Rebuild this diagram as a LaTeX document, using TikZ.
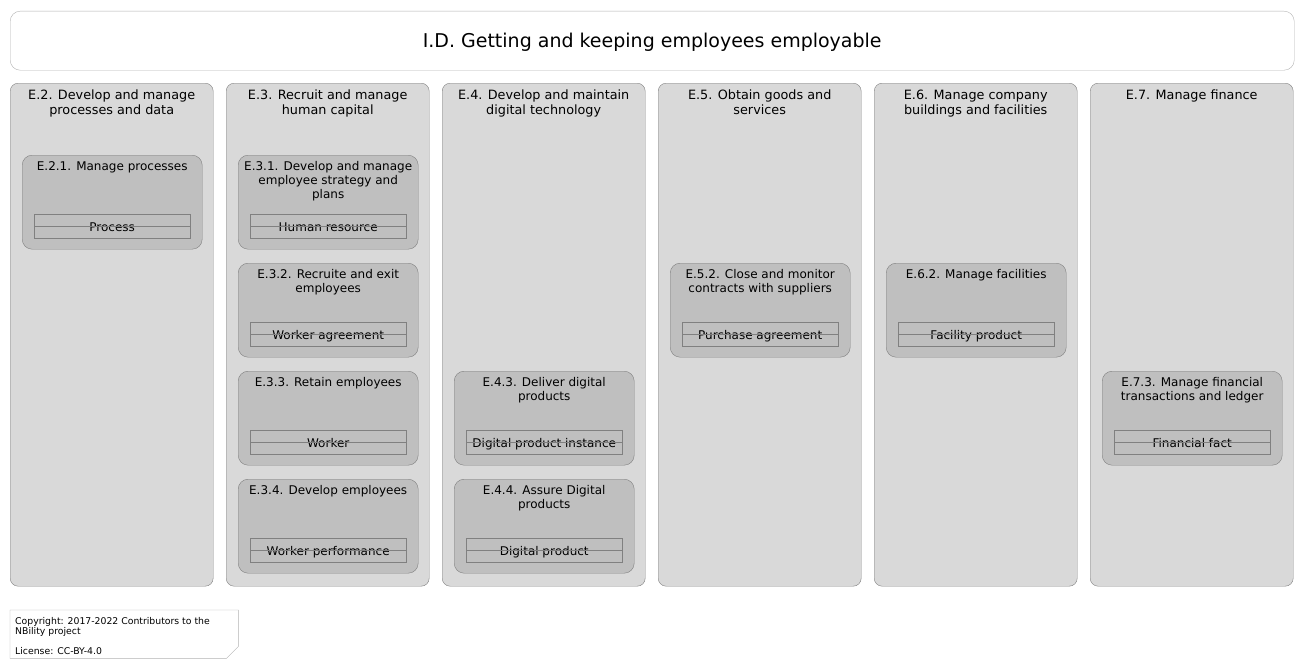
\documentclass[tikz,border=0pt]{standalone}
\usepackage{fontspec}
\setmainfont{DejaVu Sans}
\begin{document}
\begin{tikzpicture}[x=1pt,y=-1pt,
    titlebox/.style={draw=black!30, fill=white, rounded corners=10pt, minimum width=1284pt, minimum height=59pt, anchor=north west, inner sep=0pt},
    lane/.style={draw=black!50, fill=black!15, rounded corners=8pt, minimum width=203pt, minimum height=503pt, anchor=north west, inner sep=0pt},
    lanetitle/.style={anchor=north, align=center, inner sep=0pt, font=\fontsize{12.8}{14.5}\selectfont},
    capa/.style={draw=black!50, fill=black!25, rounded corners=10pt, minimum width=180pt, minimum height=94pt, anchor=north west, inner sep=0pt},
    capatitle/.style={anchor=north, align=center, inner sep=0pt, font=\fontsize{12}{14}\selectfont},
    obj/.style={draw=black!50, minimum width=156pt, minimum height=24pt, anchor=north west, inner sep=0pt, text height=10pt, text depth=0pt, font=\fontsize{12}{14}\selectfont},
    objline/.style={draw=black!50}]
  \useasboundingbox (0,0) rectangle (1305,669);

  \node[titlebox] (id) at (10,11) {};
  \node[font=\fontsize{19}{22}\selectfont] (idt) at ([yshift=-2pt]id.center) {I.D. Getting and keeping employees employable};

  % lanes
  \node[lane] (e2) at (10,83) {};
  \node[lane] (e3) at (226,83) {};
  \node[lane] (e4) at (442,83) {};
  \node[lane] (e5) at (658,83) {};
  \node[lane] (e6) at (874,83) {};
  \node[lane] (e7) at (1090,83) {};
  \node[lanetitle] (e2t) at ([yshift=-7pt]e2.north) {E.2. Develop and manage\\processes and data};
  \node[lanetitle] (e3t) at ([yshift=-7pt]e3.north) {E.3. Recruit and manage\\human capital};
  \node[lanetitle] (e4t) at ([yshift=-7pt]e4.north) {E.4. Develop and maintain\\digital technology};
  \node[lanetitle] (e5t) at ([yshift=-7pt]e5.north) {E.5. Obtain goods and\\services};
  \node[lanetitle] (e6t) at ([yshift=-7pt]e6.north) {E.6. Manage company\\buildings and facilities};
  \node[lanetitle] (e7t) at ([yshift=-7pt]e7.north) {E.7. Manage finance};

  % capabilities
  \node[capa] (e21) at (22,155) {};
  \node[capatitle] (e21t) at ([yshift=-6pt]e21.north) {E.2.1. Manage processes};
  \node[obj] (e21o) at (34,214) {Process};
  \draw[objline] (e21o.west) -- (e21o.east);

  \node[capa] (e31) at (238,155) {};
  \node[capatitle] (e31t) at ([yshift=-6pt]e31.north) {E.3.1. Develop and manage\\employee strategy and\\plans};
  \node[obj] (e31o) at (250,214) {Human resource};
  \draw[objline] (e31o.west) -- (e31o.east);

  \node[capa] (e32) at (238,263) {};
  \node[capatitle] (e32t) at ([yshift=-6pt]e32.north) {E.3.2. Recruite and exit\\employees};
  \node[obj] (e32o) at (250,322) {Worker agreement};
  \draw[objline] (e32o.west) -- (e32o.east);

  \node[capa] (e33) at (238,371) {};
  \node[capatitle] (e33t) at ([yshift=-6pt]e33.north) {E.3.3. Retain employees};
  \node[obj] (e33o) at (250,430) {Worker};
  \draw[objline] (e33o.west) -- (e33o.east);

  \node[capa] (e34) at (238,479) {};
  \node[capatitle] (e34t) at ([yshift=-6pt]e34.north) {E.3.4. Develop employees};
  \node[obj] (e34o) at (250,538) {Worker performance};
  \draw[objline] (e34o.west) -- (e34o.east);

  \node[capa] (e43) at (454,371) {};
  \node[capatitle] (e43t) at ([yshift=-6pt]e43.north) {E.4.3. Deliver digital\\products};
  \node[obj] (e43o) at (466,430) {Digital product instance};
  \draw[objline] (e43o.west) -- (e43o.east);

  \node[capa] (e44) at (454,479) {};
  \node[capatitle] (e44t) at ([yshift=-6pt]e44.north) {E.4.4. Assure Digital\\products};
  \node[obj] (e44o) at (466,538) {Digital product};
  \draw[objline] (e44o.west) -- (e44o.east);

  \node[capa] (e52) at (670,263) {};
  \node[capatitle] (e52t) at ([yshift=-6pt]e52.north) {E.5.2. Close and monitor\\contracts with suppliers};
  \node[obj] (e52o) at (682,322) {Purchase agreement};
  \draw[objline] (e52o.west) -- (e52o.east);

  \node[capa] (e62) at (886,263) {};
  \node[capatitle] (e62t) at ([yshift=-6pt]e62.north) {E.6.2. Manage facilities};
  \node[obj] (e62o) at (898,322) {Facility product};
  \draw[objline] (e62o.west) -- (e62o.east);

  \node[capa] (e73) at (1102,371) {};
  \node[capatitle] (e73t) at ([yshift=-6pt]e73.north) {E.7.3. Manage financial\\transactions and ledger};
  \node[obj] (e73o) at (1114,430) {Financial fact};
  \draw[objline] (e73o.west) -- (e73o.east);

  % licence note
  \node[minimum width=228pt, minimum height=48pt, anchor=north west, inner sep=0pt] (lic) at (10,610) {};
  \draw[draw=black!30, fill=white] (lic.north west) -- (lic.north east) -- ([yshift=12pt]lic.south east)
    -- ([xshift=-12pt]lic.south east) -- (lic.south west) -- cycle;
  \node[anchor=north west, align=left, inner sep=0pt, font=\fontsize{9.3}{10.5}\selectfont] (lict) at ([shift={(5pt,-7pt)}]lic.north west)
    {Copyright: 2017-2022 Contributors to the\\NBility project\\[9pt]License: CC-BY-4.0};
\end{tikzpicture}
\end{document}
